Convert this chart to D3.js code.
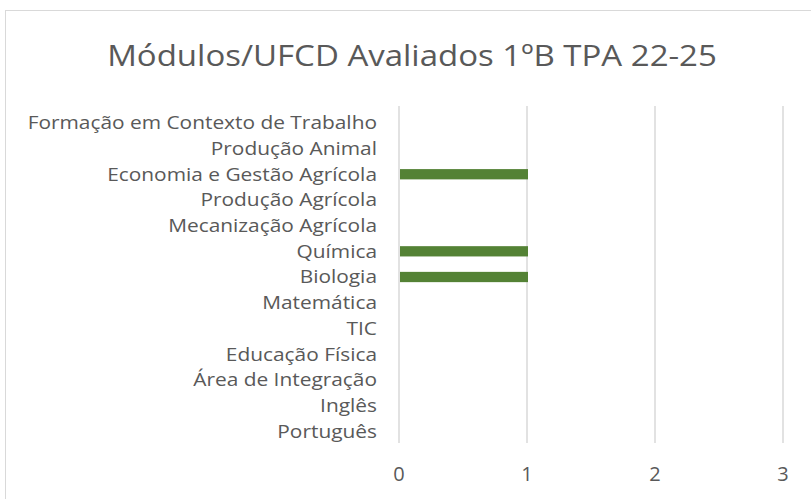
<!DOCTYPE html>
<html>
<head>
<meta charset="utf-8">
<script src="https://cdn.jsdelivr.net/npm/d3@7"></script>
<style>
  body { margin: 0; background: #fff; }
  text { font-family: "Open Sans", sans-serif; fill: #595959; }
</style>
</head>
<body>
<div id="chart"></div>
<script>
// Data (top to bottom as in the chart)
var categories = ["Formação em Contexto de Trabalho", "Produção Animal", "Economia e Gestão Agrícola",
  "Produção Agrícola", "Mecanização Agrícola", "Química", "Biologia", "Matemática", "TIC",
  "Educação Física", "Área de Integração", "Inglês", "Português"];
var values = [0, 0, 1, 0, 0, 1, 1, 0, 0, 0, 0, 0, 0];
var xTicks = [0, 1, 2, 3];
var title = "Módulos/UFCD Avaliados 1ºB TPA 22-25";

var W = 811, H = 499;
var svg = d3.select("#chart").append("svg")
  .attr("width", W).attr("height", H);

// chart border
svg.append("rect")
  .attr("x", 5.5).attr("y", 10.5)
  .attr("width", 900).attr("height", 600)
  .attr("fill", "#fff").attr("stroke", "#d9d9d9");

// title (slightly stretched to match the wide source font)
svg.append("text")
  .attr("transform", "translate(412,66) scale(1.1,1)")
  .attr("text-anchor", "middle")
  .style("font-size", "30px")
  .text(title);

var x = d3.scaleLinear().domain([0, 3]).range([399, 783]);
var y = d3.scaleBand().domain(categories).range([110, 444]).paddingInner(0.6).paddingOuter(0.3);

// gridlines
svg.selectAll(".grid")
  .data(xTicks)
  .enter().append("line")
  .attr("x1", function(d) { return x(d); })
  .attr("x2", function(d) { return x(d); })
  .attr("y1", 106).attr("y2", 443)
  .attr("stroke", "#d9d9d9").attr("stroke-width", 1.5);

// bars
svg.selectAll(".bar")
  .data(categories)
  .enter().append("rect")
  .attr("x", x(0) + 1)
  .attr("y", function(d) { return y(d); })
  .attr("width", function(d, i) { return Math.max(0, x(values[i]) - x(0)); })
  .attr("height", y.bandwidth())
  .attr("fill", "#548235");

// category labels
svg.selectAll(".cat")
  .data(categories)
  .enter().append("text")
  .attr("transform", function(d) {
    return "translate(377," + (y(d) + y.bandwidth() / 2) + ") scale(1.16,1)";
  })
  .attr("dy", "0.36em")
  .attr("text-anchor", "end")
  .style("font-size", "18px")
  .text(function(d) { return d; });

// x tick labels
svg.selectAll(".tick")
  .data(xTicks)
  .enter().append("text")
  .attr("x", function(d) { return x(d); })
  .attr("y", 481)
  .attr("text-anchor", "middle")
  .style("font-size", "20px")
  .text(function(d) { return d; });
</script>
</body>
</html>
